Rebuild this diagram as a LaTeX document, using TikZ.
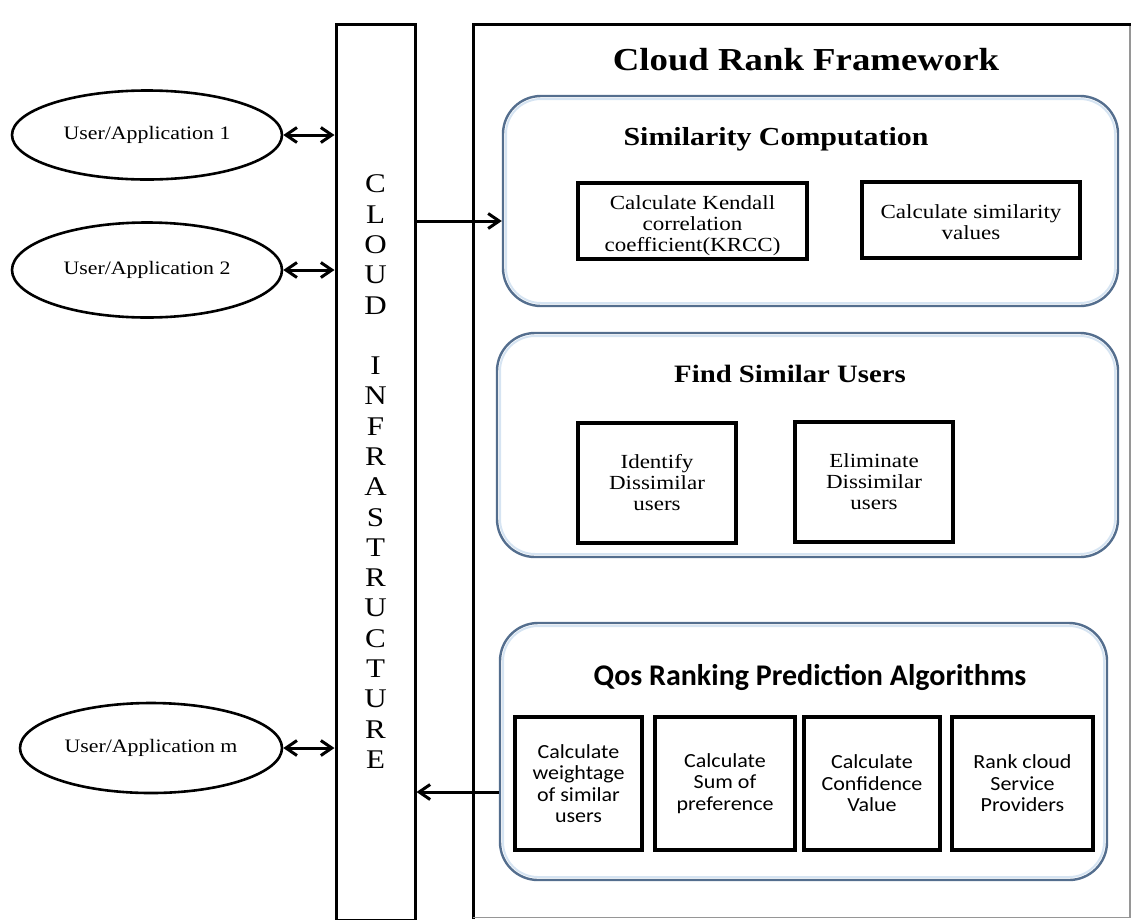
\documentclass[tikz,border=0pt]{standalone}
\usepackage{fontspec}
\newfontfamily\docserif{Liberation Serif}[FakeStretch=1.15]
\newfontfamily\docsans{Carlito}[FakeStretch=1.1]
\newfontfamily\docsanshead{Carlito}
\usetikzlibrary{shapes.geometric,arrows.meta}
\definecolor{groupline}{RGB}{84,110,142}
\definecolor{groupglow}{RGB}{214,228,242}
\definecolor{pagerim}{RGB}{150,150,150}
\tikzset{
  userapp/.style={ellipse, draw, line width=2.6pt, inner sep=0pt,
    font=\docserif\fontsize{19}{22}\selectfont},
  framebox/.style={draw, line width=3pt, inner sep=0pt},
  upright/.style={inner sep=0pt, font=\docserif\fontsize{27}{30}\selectfont},
  group/.style={draw=groupline, line width=2.4pt, rounded corners=38pt, inner sep=0pt},
  glow/.style={draw=groupglow, line width=2pt, rounded corners=35pt, inner sep=0pt},
  grouptitle/.style={anchor=base, inner sep=0pt,
    font=\docserif\bfseries\fontsize{26}{30}\selectfont},
  task/.style={draw, line width=3.3pt, inner sep=0pt, align=center,
    font=\docserif\fontsize{20}{21}\selectfont},
  qtask/.style={task, font=\docsans\fontsize{20}{21.5}\selectfont},
  link/.style={line width=3pt, -{Straight Barb[length=11pt,width=15pt]}},
  twoway/.style={line width=3pt, {Straight Barb[length=11pt,width=15pt]}-{Straight Barb[length=11pt,width=15pt]}},
}
\begin{document}
\begin{tikzpicture}[x=1pt,y=-1pt]
\useasboundingbox (0,0) rectangle (1131,919);

% users and applications
\node[userapp, minimum width=270pt, minimum height=89pt] (u1) at (147,135) {User/Application 1};
\node[userapp, minimum width=270pt, minimum height=95pt] (u2) at (147,270) {User/Application 2};
\node[userapp, minimum width=262pt, minimum height=90pt] (um) at (151,748) {User/Application m};

% cloud infrastructure column
\node[framebox, minimum width=79pt, minimum height=896pt] (cloud) at (375.5,472) {};
\foreach \ch [count=\i from 0] in {C,L,O,U,D,{},I,N,F,R,A,S,T,R,U,C,T,U,R,E}
  \node[upright] (cl\i) at (375.5,184+30.3*\i) {\ch};

% framework outline
\coordinate (fwtl) at (473,24);
\draw[line width=3pt] (1131,24) -- (fwtl) -- (473,919);
\draw[pagerim, line width=1.5pt] (473,917.5) -- (1130,917.5) -- (1130,26);
\node[grouptitle, font=\docserif\bfseries\fontsize{32}{36}\selectfont] (fwtitle) at (806,70) {Cloud Rank Framework};

% similarity computation
\node[glow, minimum width=609pt, minimum height=204pt] (simglow) at (810.5,201) {};
\node[group, minimum width=615pt, minimum height=210pt] (sim) at (810.5,201) {};
\node[grouptitle] (simtitle) at (776,145) {Similarity Computation};
\node[task, minimum width=229pt, minimum height=76pt] (krcc) at (692.5,221) {\rule{0pt}{24pt}Calculate Kendall\\correlation\\coefficient(KRCC)};
\node[task, minimum width=218pt, minimum height=76pt] (simval) at (971,220) {\rule{0pt}{19pt}Calculate similarity\\values};

% find similar users
\node[glow, minimum width=615pt, minimum height=218pt] (findglow) at (807.5,445) {};
\node[group, minimum width=621pt, minimum height=224pt] (find) at (807.5,445) {};
\node[grouptitle, font=\docserif\bfseries\fontsize{25}{30}\selectfont] (findtitle) at (790,382) {Find Similar Users};
\node[task, minimum width=158pt, minimum height=120pt] (ident) at (657,483) {Identify\\Dissimilar\\users};
\node[task, minimum width=158pt, minimum height=120pt] (elim) at (874,482) {Eliminate\\Dissimilar\\users};

% qos ranking prediction
\node[glow, minimum width=601pt, minimum height=251pt] (qosglow) at (803.5,751.5) {};
\node[group, minimum width=607pt, minimum height=257pt] (qos) at (803.5,751.5) {};
\node[grouptitle, font=\docsanshead\bfseries\fontsize{30}{34}\selectfont] (qostitle) at (810,685) {Qos Ranking Prediction Algorithms};
\node[qtask, minimum width=127pt, minimum height=133pt] (weight) at (578.5,783.5) {Calculate\\weightage\\of similar\\users};
\node[qtask, minimum width=140pt, minimum height=133pt] (pref) at (725,783.5) {Calculate\\Sum of\\preference};
\node[qtask, minimum width=136pt, minimum height=133pt] (conf) at (872,783.5) {Calculate\\Confidence\\Value};
\node[qtask, minimum width=141pt, minimum height=133pt] (rank) at (1022.5,783.5) {Rank cloud\\Service\\Providers};

% connectors
\draw[twoway] (u1.east) -- (u1.east -| cloud.west);
\draw[twoway] (u2.east) -- (u2.east -| cloud.west);
\draw[twoway] (um.east) -- (um.east -| cloud.west);
\draw[link] (krcc.west -| cloud.east) -- (krcc.west -| sim.west);
\coordinate (qout) at ([yshift=-40.5pt]qos.west);
\draw[link] (qout) -- (qout -| cloud.east);
\end{tikzpicture}
\end{document}
